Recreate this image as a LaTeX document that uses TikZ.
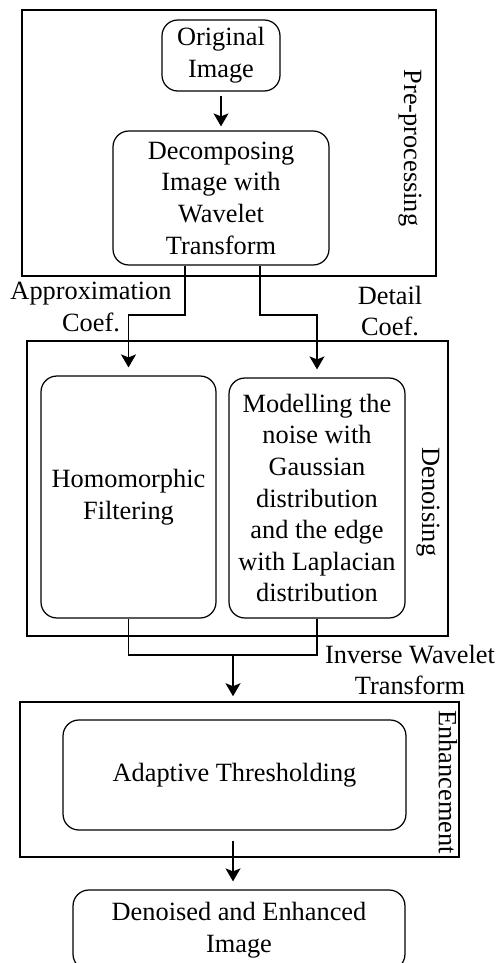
\documentclass[tikz,border=0pt]{standalone}
\usepackage{fontspec}
\setmainfont{Liberation Serif}
\usetikzlibrary{arrows.meta,positioning,calc}
\tikzset{
  >={Stealth[length=2.6mm,width=3mm,inset=0.6mm]},
  % stages
  stage/.style={draw=black,line width=0.9pt,inner sep=0pt},
  side/.style={rotate=-90,inner sep=0pt},
  % blocks
  blk/.style={draw=black,line width=0.7pt,rounded corners=9pt,align=center,inner sep=2pt},
  lbl/.style={align=center,inner sep=0pt},
  flow/.style={->,draw=black,line width=0.8pt},
  wire/.style={draw=black,line width=0.8pt},
}

\begin{document}
\begin{tikzpicture}[x=0.02cm,y=-0.02cm,every node/.append style={font=\fontsize{15}{18}\selectfont}]
  \useasboundingbox (0,0) rectangle (502,963);
  % stages
  \node[stage,minimum width=8.28cm,minimum height=5.32cm] (pre) at (229,143) {};
  \node[stage,minimum width=8.42cm,minimum height=5.9cm] (den) at (237.5,488.5) {};
  \node[stage,minimum width=8.78cm,minimum height=3.1cm] (enh) at (239.5,779.5) {};
  \node[side] (prel) at (410,148) {Pre-processing};
  \node[side] (denl) at (428,502) {Denoising};
  \node[side] (enhl) at (448,782) {Enhancement};
  % blocks
  \node[blk,minimum width=2.36cm,minimum height=1.42cm] (ori) at (221,55.5) {Original\\Image};
  \node[blk,minimum width=4.32cm,minimum height=2.68cm] (dec) at (221,198) {Decomposing\\Image with\\Wavelet\\Transform};
  \node[blk,minimum width=3.5cm,minimum height=4.84cm] (hom) at (128.5,497) {Homomorphic\\Filtering};
  \node[blk,minimum width=3.52cm,minimum height=4.8cm] (mod) at (317,498) {Modelling the\\noise with\\Gaussian\\distribution\\and the edge\\with Laplacian\\distribution};
  \node[blk,minimum width=6.86cm,minimum height=2.2cm] (ada) at (234.5,775) {Adaptive Thresholding};
  \node[blk,minimum width=6.64cm,minimum height=1.6cm] (fin) at (239,930) {Denoised and Enhanced\\Image};
  % labels
  \node[lbl] (appl) at (91,307) {Approximation\\Coef.};
  \node[lbl] (detl) at (390,311) {Detail\\Coef.};
  \node[lbl] (iwtl) at (410,670) {Inverse Wavelet\\Transform};
  % connectors
  \coordinate (al) at (185,315);
  \coordinate (dl) at (260,315);
  \coordinate (iw) at (233,655);
  \draw[flow,shorten <=0.8mm,shorten >=0.8mm] (ori) -- (dec);
  \draw[flow,shorten >=1.6mm] (dec.south -| al) -- (al) -| (hom.north);
  \draw[flow,shorten >=1.6mm] (dec.south -| dl) -- (dl) -| (mod.north);
  \draw[wire] (hom.south) |- (iw) -| (mod.south);
  \draw[flow,shorten >=1mm] (iw) -- (iw |- enh.north);
  \draw[flow,shorten <=2mm,shorten >=1.6mm] (ada.south -| iw) -- (fin.north -| iw);
\end{tikzpicture}
\end{document}
